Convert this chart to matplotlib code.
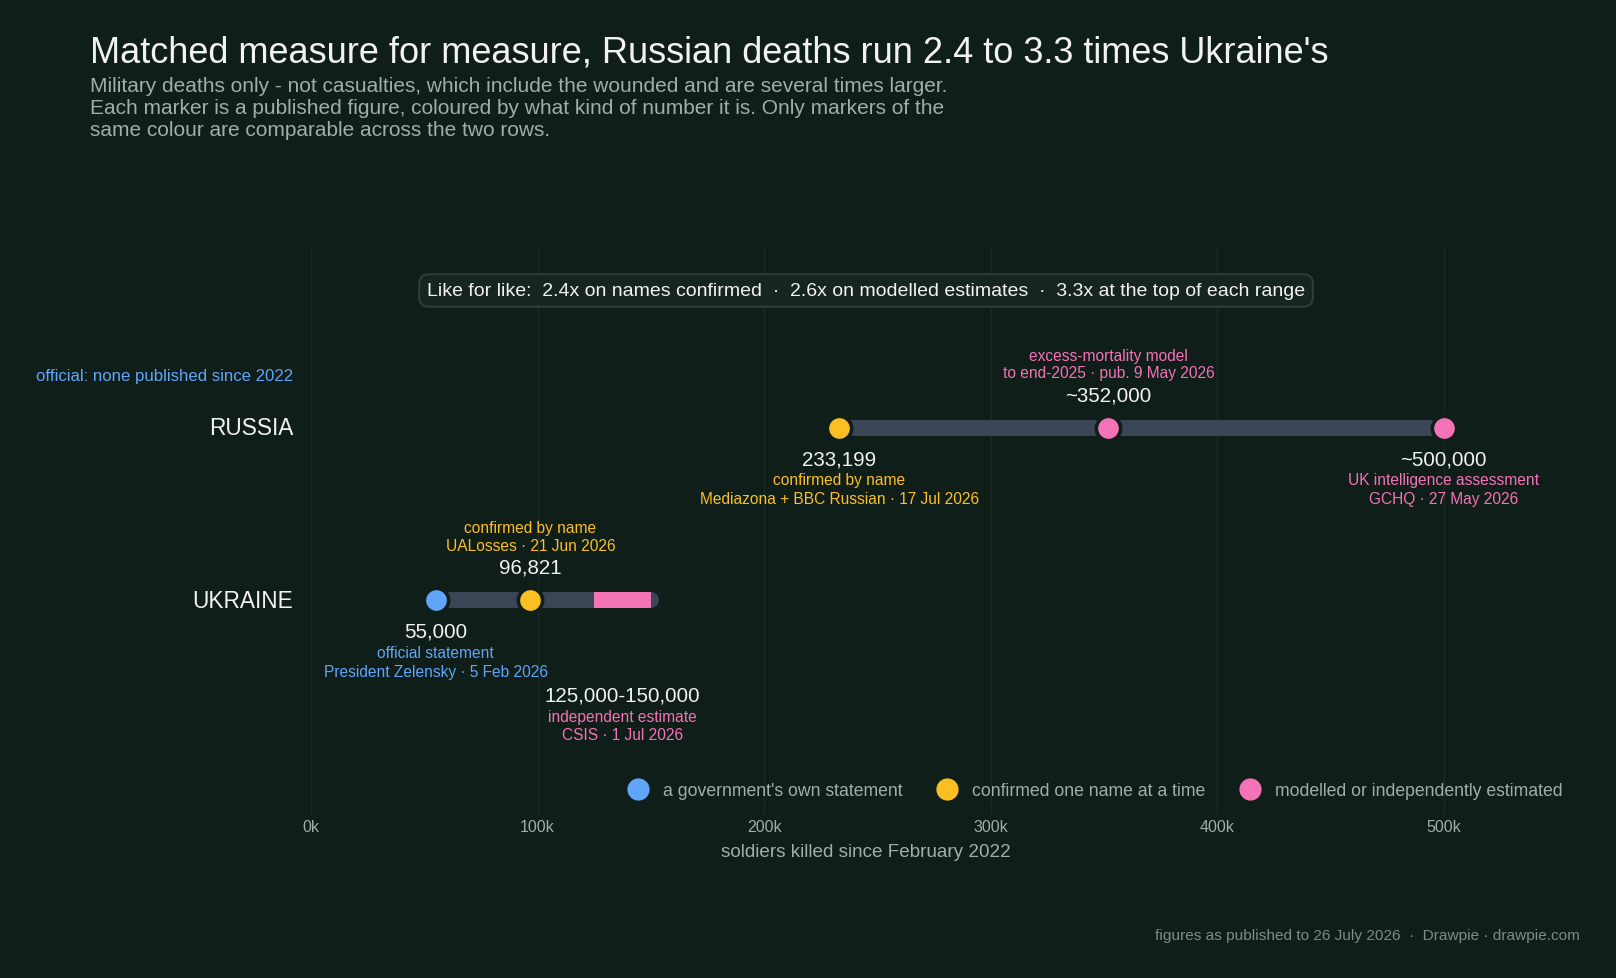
import numpy as np
import matplotlib.pyplot as plt
from matplotlib.lines import Line2D

# --- data ---
rows = ["RUSSIA", "UKRAINE"]
row_y = [1, 0]

russia_values = [233199, 352000, 500000]
russia_kinds = ["confirmed", "modelled", "modelled"]
ukraine_values = [55000, 96821]
ukraine_kinds = ["official", "confirmed"]
ukraine_range = [125000, 150000]

kind_labels = {
    "official": "a government's own statement",
    "confirmed": "confirmed one name at a time",
    "modelled": "modelled or independently estimated",
}
xticks = [0, 100000, 200000, 300000, 400000, 500000]
xtick_labels = ["0k", "100k", "200k", "300k", "400k", "500k"]

BG = "#0f1e18"
GRID = "#1b2a24"
BAR = "#3a4555"
TXT = "#f2f2f2"
GREY = "#a3ada8"
colors = {"official": "#60a5fa", "confirmed": "#fbbf24", "modelled": "#f472b6"}

plt.rcParams["font.family"] = ["Liberation Sans", "DejaVu Sans"]

fig = plt.figure(figsize=(16.16, 9.79), dpi=100, facecolor=BG)
ax = fig.add_axes([0.1925, 0.1675, 0.771, 0.5795])
ax.set_facecolor(BG)
ax.set_xlim(0, 550000)
ax.set_ylim(-1.24, 2.05)

for s in ax.spines.values():
    s.set_visible(False)
ax.set_xticks(xticks)
ax.set_xticklabels(xtick_labels)
ax.tick_params(axis="x", length=0, colors=GREY, labelsize=11.5, pad=3.5)
ax.set_yticks([])
ax.grid(axis="x", color=GRID, linewidth=1)
ax.set_axisbelow(True)
ax.set_xlabel("soldiers killed since February 2022", color=GREY, fontsize=13.6)
ax.xaxis.set_label_coords((866 - 311) / (0.771 * 1616), -0.051)

# bars
ax.plot([russia_values[0], russia_values[-1]], [1, 1], color=BAR, lw=11.5,
        solid_capstyle="round", zorder=2)
ax.plot([ukraine_values[0], ukraine_range[1]], [0, 0], color=BAR, lw=11.5,
        solid_capstyle="round", zorder=2)
ax.plot(ukraine_range, [0, 0], color=colors["modelled"], lw=11.5,
        solid_capstyle="butt", zorder=3)

# markers
for vals, kinds, y in [(russia_values, russia_kinds, 1), (ukraine_values, ukraine_kinds, 0)]:
    for v, k in zip(vals, kinds):
        ax.plot(v, y, "o", ms=17.5, mfc=colors[k], mec=BG, mew=2.6, zorder=4)

# country labels
for name, y in zip(rows, row_y):
    ax.annotate(name, xy=(0, y), xycoords=ax.get_yaxis_transform(),
                xytext=(-18, 0), textcoords="offset pixels",
                ha="right", va="center", color=TXT, fontsize=16.3)

ax.annotate("official: none published since 2022", xy=(0, 1),
            xycoords=ax.get_yaxis_transform(), xytext=(-18, 52),
            textcoords="offset pixels", ha="right", va="center",
            color=colors["official"], fontsize=12.1)


def label(x, y, lines):
    # lines: list of (text, dy_pixels, colour, size)
    for t, dy, c, s in lines:
        ax.annotate(t, xy=(x, y), xytext=(0, dy), textcoords="offset pixels",
                    ha="center", va="center", color=c, fontsize=s)


Y, P, B = colors["confirmed"], colors["modelled"], colors["official"]
label(russia_values[0], 1, [("233,199", -31, TXT, 14.8),
                            ("confirmed by name", -52, Y, 11.2),
                            ("Mediazona + BBC Russian · 17 Jul 2026", -71, Y, 11.2)])
label(russia_values[1], 1, [("~352,000", 33, TXT, 14.8),
                            ("to end-2025 · pub. 9 May 2026", 55, P, 11.2),
                            ("excess-mortality model", 72.5, P, 11.2)])
label(russia_values[2], 1, [("~500,000", -31, TXT, 14.8),
                            ("UK intelligence assessment", -52, P, 11.2),
                            ("GCHQ · 27 May 2026", -71, P, 11.2)])
label(ukraine_values[0], 0, [("55,000", -31, TXT, 14.8),
                             ("official statement", -52, B, 11.2),
                             ("President Zelensky · 5 Feb 2026", -71, B, 11.2)])
label(ukraine_values[1], 0, [("96,821", 33, TXT, 14.8),
                             ("UALosses · 21 Jun 2026", 55, Y, 11.2),
                             ("confirmed by name", 72.5, Y, 11.2)])
label(np.mean(ukraine_range), 0, [("125,000-150,000", -95, TXT, 14.8),
                                  ("independent estimate", -116, P, 11.2),
                                  ("CSIS · 1 Jul 2026", -134, P, 11.2)])

# like-for-like box
fig.text(866 / 1616, 1 - 291.5 / 979,
         "Like for like:  2.4x on names confirmed  ·  2.6x on modelled estimates  ·  3.3x at the top of each range",
         ha="center", va="center", color=TXT, fontsize=14,
         bbox=dict(boxstyle="round,pad=0.4,rounding_size=0.5", fc="#16251f", ec="#2e3d36", lw=1.5))

# legend
handles = [Line2D([], [], ls="", marker="o", ms=16, mfc=colors[k], mec="none", label=kind_labels[k])
           for k in ["official", "confirmed", "modelled"]]
fig.legend(handles=handles, ncol=3, loc="center right", bbox_to_anchor=(0.967, 1 - 791.5 / 979),
           frameon=False, fontsize=12.7, labelcolor=GREY, handletextpad=0.8, columnspacing=1.95,
           borderpad=0, borderaxespad=0, handlelength=1.2)

# titles
fig.text(0.0555, 1 - 53 / 979, "Matched measure for measure, Russian deaths run 2.4 to 3.3 times Ukraine's",
         ha="left", va="center", color=TXT, fontsize=26)
fig.text(0.0555, 1 - 77.5 / 979,
         "Military deaths only - not casualties, which include the wounded and are several times larger.\n"
         "Each marker is a published figure, coloured by what kind of number it is. Only markers of the\n"
         "same colour are comparable across the two rows.",
         ha="left", va="top", color=GREY, fontsize=15, linespacing=1.18)
fig.text(1580 / 1616, 1 - 936 / 979, "figures as published to 26 July 2026  ·  Drawpie · drawpie.com",
         ha="right", va="center", color="#7f8c86", fontsize=11.1)

fig.savefig("out.png", dpi=100, facecolor=BG)
